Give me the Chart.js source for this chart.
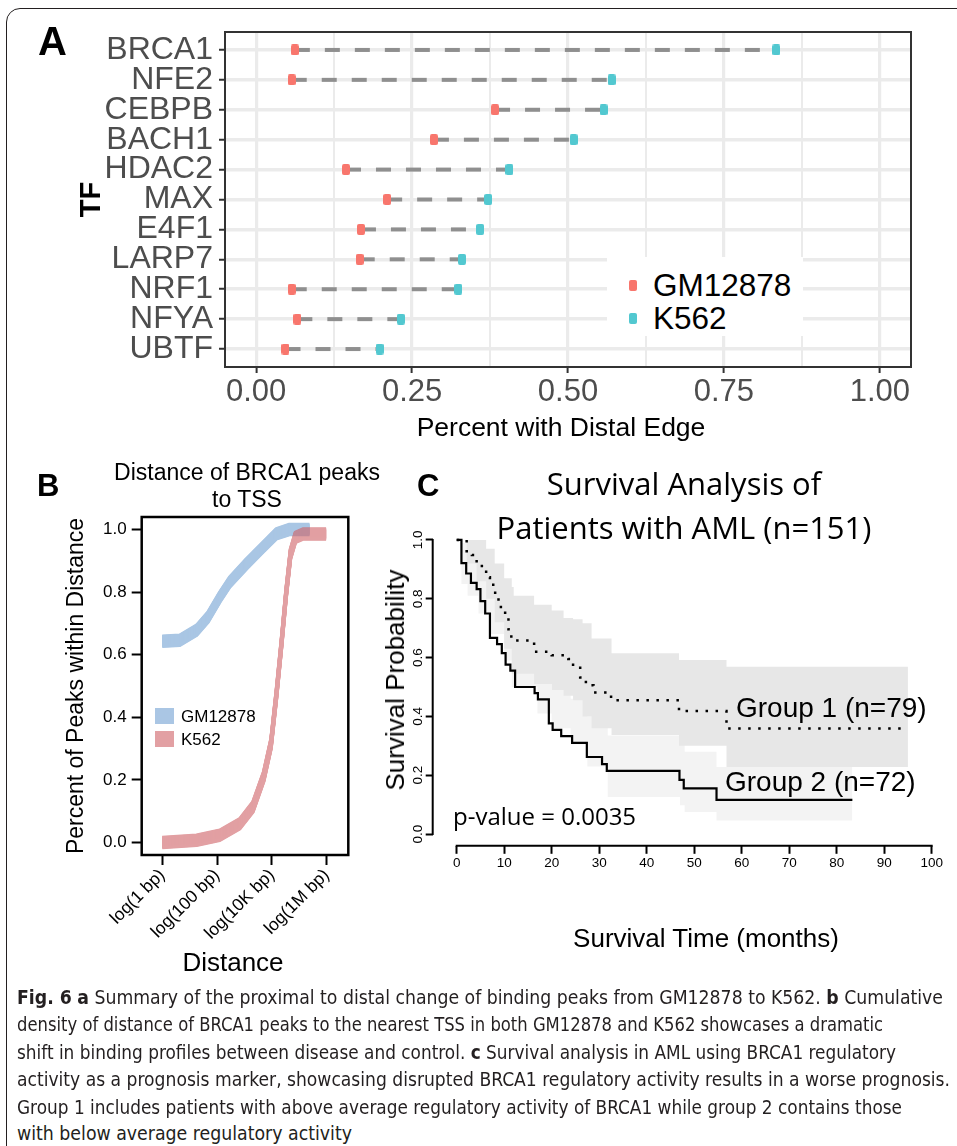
<!DOCTYPE html>
<html><head><meta charset="utf-8"><title>Fig. 6</title>
<script src="https://cdn.jsdelivr.net/npm/chart.js@4.4.1/dist/chart.umd.min.js"></script>
<style>
html,body{margin:0;padding:0;background:#fff;}
body{width:957px;height:1146px;overflow:hidden;position:relative;font-family:'Liberation Sans',Arial,Helvetica,sans-serif;color:#000;}
.frame{position:absolute;left:6px;top:8px;width:1100px;height:1300px;border:1.5px solid #231f20;border-radius:14px;box-sizing:border-box;}
.pane{position:absolute;}
.pane canvas{display:block;}
.t{position:absolute;white-space:nowrap;line-height:1;}
.os{font-family:'Open Sans','Noto Sans',sans-serif;}
.cap{position:absolute;left:17px;white-space:nowrap;font-family:'Liberation Sans Narrow','DejaVu Sans Condensed','Liberation Sans',sans-serif;font-size:20px;line-height:1;color:#231f20;transform-origin:0 50%;}
.cap b{font-weight:bold;}
</style></head>
<body>
<div class="frame"></div>
<div class="pane" style="left:0;top:0;width:957px;height:450px"><canvas id="chartA" width="957" height="450"></canvas></div>
<div class="pane" style="left:0;top:450px;width:400px;height:540px"><canvas id="chartB" width="400" height="540"></canvas></div>
<div class="pane" style="left:380px;top:450px;width:577px;height:520px"><canvas id="chartC" width="577" height="520"></canvas></div>

<!-- panel letters -->
<div class="t" style="left:38px;top:21px;font-size:40px;font-weight:bold;">A</div>
<div class="t" style="left:37px;top:470px;font-size:31px;font-weight:bold;">B</div>
<div class="t" style="left:417px;top:470px;font-size:31px;font-weight:bold;">C</div>

<!-- panel A legend & x title -->
<div style="position:absolute;left:607px;top:257px;width:196px;height:79px;background:#fff;"></div>
<div style="position:absolute;left:629px;top:280px;width:8px;height:11px;border-radius:2px;background:#F8766D;"></div>
<div style="position:absolute;left:629px;top:313px;width:8px;height:11px;border-radius:2px;background:#52C8D0;"></div>
<div class="t" style="left:653px;top:270px;font-size:31.5px;">GM12878</div>
<div class="t" style="left:653px;top:303px;font-size:31.5px;">K562</div>
<div class="t" style="left:561px;top:414px;font-size:26.5px;transform:translateX(-50%);">Percent with Distal Edge</div>

<!-- panel B texts -->
<div class="t" style="left:247px;top:461px;font-size:23px;transform:translateX(-50%);">Distance of BRCA1 peaks</div>
<div class="t" style="left:247px;top:488px;font-size:23px;transform:translateX(-50%);">to TSS</div>
<div style="position:absolute;left:155px;top:708px;width:19px;height:16px;background:rgba(113,160,210,0.6);"></div>
<div style="position:absolute;left:155px;top:731px;width:19px;height:16px;background:rgba(207,97,102,0.6);"></div>
<div class="t" style="left:181px;top:708px;font-size:17px;">GM12878</div>
<div class="t" style="left:181px;top:731px;font-size:17px;">K562</div>
<div class="t" style="left:233px;top:949px;font-size:26px;transform:translateX(-50%);">Distance</div>

<!-- panel C texts -->
<div class="t os" style="left:684px;top:468px;font-size:31px;transform:translateX(-50%);">Survival Analysis of</div>
<div class="t os" style="left:684px;top:512px;font-size:31px;transform:translateX(-50%);">Patients with AML (n=151)</div>
<div class="t os" style="left:453px;top:804px;font-size:24px;">p-value = 0.0035</div>
<div class="t" style="left:736px;top:694px;font-size:28px;">Group 1 (n=79)</div>
<div class="t" style="left:725px;top:768px;font-size:28px;">Group 2 (n=72)</div>
<div class="t" style="left:395px;top:680px;font-size:26px;transform:translate(-50%,-50%) rotate(-90deg);">Survival Probability</div>
<div class="t" style="left:706px;top:925px;font-size:26px;transform:translateX(-50%);">Survival Time (months)</div>

<!-- caption -->
<div class="cap" id="cap0" style="top:987px;"><b>Fig. 6</b> <b>a</b> Summary of the proximal to distal change of binding peaks from GM12878 to K562. <b>b</b> Cumulative</div>
<div class="cap" id="cap1" style="top:1014px;">density of distance of BRCA1 peaks to the nearest TSS in both GM12878 and K562 showcases a dramatic</div>
<div class="cap" id="cap2" style="top:1042px;">shift in binding profiles between disease and control. <b>c</b> Survival analysis in AML using BRCA1 regulatory</div>
<div class="cap" id="cap3" style="top:1069px;">activity as a prognosis marker, showcasing disrupted BRCA1 regulatory activity results in a worse prognosis.</div>
<div class="cap" id="cap4" style="top:1097px;">Group 1 includes patients with above average regulatory activity of BRCA1 while group 2 contains those</div>
<div class="cap" id="cap5" style="top:1123px;">with below average regulatory activity</div>

<script>
// ---------------- data: panel A ----------------
const tfNames = ['BRCA1','NFE2','CEBPB','BACH1','HDAC2','MAX','E4F1','LARP7','NRF1','NFYA','UBTF'];
const gm12878Pct = [0.062,0.057,0.383,0.285,0.144,0.210,0.168,0.166,0.057,0.066,0.047];
const k562Pct    = [0.834,0.570,0.557,0.509,0.406,0.372,0.359,0.330,0.324,0.232,0.198];
const pctTicks = [0,0.25,0.5,0.75,1];
const pctTickLabels = ['0.00','0.25','0.50','0.75','1.00'];
const pctMinorTicks = [0.125,0.375,0.625,0.875];

// ---------------- data: panel B ----------------
const distTicks = [0,2,4,6];
const distTickLabels = ['log(1 bp)','log(100 bp)','log(10K bp)','log(1M bp)'];
const gmLogDist = [0,0.64,1.25,1.67,2.1,2.46,3.07,3.67,4.16,4.64,5.37];
const gmCumFrac = [0.643,0.646,0.678,0.72,0.784,0.832,0.89,0.943,0.986,1.0,1.0];
const k562LogDist = [0,1.25,2.1,2.83,3.31,3.7,3.97,4.17,4.35,4.52,4.68,4.86,5.15,5.98];
const k562CumFrac = [0.0,0.007,0.023,0.06,0.114,0.21,0.316,0.476,0.635,0.795,0.922,0.975,0.986,0.986];
const fracTicks = [0,0.2,0.4,0.6,0.8,1.0];
const fracTickLabels = ['0.0','0.2','0.4','0.6','0.8','1.0'];

// ---------------- data: panel C ----------------
const monthTicks = [0,10,20,30,40,50,60,70,80,90,100];
const monthTickLabels = ['0','10','20','30','40','50','60','70','80','90','100'];
const g1Months = [0,2.1,3.2,4.2,5.3,6.2,7.0,8.1,8.8,10.2,10.9,11.5,16.3,20.0,23.5,24.5,26.0,27.2,28.8,32.5,46.8,56.8,94.0];
const g1Surv   = [1,0.962,0.949,0.923,0.899,0.873,0.848,0.81,0.772,0.734,0.696,0.658,0.62,0.608,0.595,0.57,0.532,0.506,0.481,0.455,0.418,0.359,0.359];
const g2Months = [0,1.0,2.0,3.0,4.2,5.0,6.0,7.0,8.5,9.5,10.3,11.3,12.3,16.4,17.1,19.4,20.2,22.0,24.3,27.4,30.6,31.6,46.9,47.8,54.7,83.3];
const g2Surv   = [1,0.921,0.886,0.854,0.833,0.792,0.75,0.667,0.646,0.615,0.576,0.556,0.5,0.479,0.458,0.376,0.354,0.333,0.31,0.262,0.238,0.215,0.184,0.155,0.116,0.116];
const band1Months = [0,2.1,4.2,6.2,8.0,10.0,11.6,12.0,16.3,20.0,22.5,24.5,26.5,28.4,32.6,46.8,56.8,95];
const band1Upper  = [1,1,1,0.97,0.92,0.87,0.84,0.81,0.78,0.76,0.735,0.73,0.717,0.665,0.615,0.592,0.569,0.569];
const band1Lower  = [1,0.92,0.86,0.80,0.72,0.63,0.545,0.545,0.51,0.49,0.47,0.455,0.40,0.36,0.337,0.30,0.228,0.228];
const band2Months = [0,1.0,2.3,4.6,7.0,10.0,11.6,17.0,20.0,24.0,27.5,31.8,47.0,48.0,54.7,83.3];
const band2Upper  = [1,0.99,0.96,0.93,0.86,0.76,0.66,0.55,0.49,0.46,0.40,0.335,0.31,0.28,0.228,0.228];
const band2Lower  = [1,0.85,0.81,0.75,0.68,0.59,0.50,0.41,0.36,0.305,0.23,0.126,0.098,0.075,0.046,0.046];
const survTicks = [0,0.2,0.4,0.6,0.8,1.0];
const survTickLabels = ['0.0','0.2','0.4','0.6','0.8','1.0'];

// ---------------- helpers / plugins ----------------
const FONT = "'Liberation Sans', Arial, Helvetica, sans-serif";
Chart.defaults.font.family = FONT;
Chart.defaults.color = '#000';
const pts = (xs, ys) => xs.map((x, i) => ({x, y: ys[i]}));

function markerImg(color){
  const c = document.createElement('canvas'); c.width = 8; c.height = 11;
  const g = c.getContext('2d'); g.fillStyle = color; g.beginPath();
  if (g.roundRect) g.roundRect(0,0,8,11,2); else g.rect(0,0,8,11);
  g.fill(); return c;
}

const frameBox = {
  id: 'frameBox',
  afterDraw(chart, args, opts){
    if (!opts || !opts.color) return;
    const a = chart.chartArea, ctx = chart.ctx;
    ctx.save(); ctx.strokeStyle = opts.color; ctx.lineWidth = opts.width;
    ctx.strokeRect(a.left, a.top, a.right - a.left, a.bottom - a.top);
    ctx.restore();
  }
};

const bandPlugin = {
  id: 'bands',
  afterDatasetsDraw(chart){
    const ctx = chart.ctx;
    chart.data.datasets.forEach((ds, i) => {
      if (!ds.band) return;
      const p = chart.getDatasetMeta(i).data.map(e => ({x: e.x, y: e.y}));
      const off = document.createElement('canvas'); off.width = chart.width; off.height = chart.height;
      const o = off.getContext('2d');
      o.strokeStyle = ds.band.color; o.lineWidth = ds.band.width; o.lineJoin = 'round'; o.lineCap = 'butt';
      for (let d = -ds.band.half; d <= ds.band.half; d += 0.5){
        o.beginPath();
        p.forEach((q, k) => k ? o.lineTo(q.x, q.y + d) : o.moveTo(q.x, q.y + d));
        o.stroke();
      }
      ctx.save(); ctx.globalAlpha = ds.band.alpha; ctx.drawImage(off, 0, 0); ctx.restore();
    });
  }
};

const rAxes = {
  id: 'rAxes',
  afterDraw(chart, args, opts){
    if (!opts || !opts.width) return;
    const ctx = chart.ctx, xs = chart.scales.x, ys = chart.scales.y, a = chart.chartArea;
    ctx.save(); ctx.strokeStyle = '#000'; ctx.lineWidth = opts.width; ctx.lineCap = 'square';
    ctx.beginPath();
    ctx.moveTo(xs.getPixelForValue(opts.x0), a.bottom); ctx.lineTo(xs.getPixelForValue(opts.x1), a.bottom);
    ctx.moveTo(a.left, ys.getPixelForValue(opts.y0)); ctx.lineTo(a.left, ys.getPixelForValue(opts.y1));
    ctx.stroke(); ctx.restore();
  }
};

// ---------------- chart A ----------------
const allPctTicks = pctTicks.concat(pctMinorTicks).sort((a,b)=>a-b);
const isMajor = v => pctTicks.indexOf(v) >= 0;
new Chart(document.getElementById('chartA'), {
  type: 'scatter',
  data: { datasets: [
    ...tfNames.map((n, i) => ({
      label: n, data: [{x: gm12878Pct[i], y: i}, {x: k562Pct[i], y: i}],
      showLine: true, borderColor: '#8f8f8f', borderWidth: 4, borderDash: [15,15], borderCapStyle: 'butt',
      pointRadius: 0, order: 3
    })),
    { label: 'GM12878', data: gm12878Pct.map((v, i) => ({x: v, y: i})), pointStyle: markerImg('#F8766D'), order: 1 },
    { label: 'K562', data: k562Pct.map((v, i) => ({x: v, y: i})), pointStyle: markerImg('#52C8D0'), order: 1 }
  ]},
  options: {
    responsive: false, animation: false, devicePixelRatio: 1,
    layout: { padding: { left: 0, top: 32, right: 46, bottom: 0 } },
    events: [],
    plugins: { legend: { display: false }, tooltip: { enabled: false }, frameBox: { color: '#333', width: 2 } },
    scales: {
      x: {
        type: 'linear', min: -0.05, max: 1.05,
        afterBuildTicks: s => { s.ticks = allPctTicks.map(v => ({value: v})); },
        ticks: { callback: v => isMajor(v) ? pctTickLabels[pctTicks.indexOf(v)] : '', font: {size: 31}, color: '#4d4d4d', padding: 1, autoSkip: false, maxRotation: 0 },
        grid: { color: '#ebebeb', lineWidth: c => (c.tick && isMajor(c.tick.value)) ? 3.2 : 2, tickLength: 6,
                tickColor: c => (c.tick && isMajor(c.tick.value)) ? '#333' : 'rgba(0,0,0,0)', tickWidth: 2 },
        border: { display: false },
        afterFit: s => { s.height = 450 - 367; }
      },
      y: {
        type: 'linear', reverse: true, min: -0.6, max: 10.6,
        afterBuildTicks: s => { s.ticks = tfNames.map((n, i) => ({value: i})); },
        ticks: { callback: v => tfNames[v], font: {size: 32}, color: '#4d4d4d', padding: 6, autoSkip: false },
        grid: { color: '#ebebeb', lineWidth: 3.5, tickLength: 6, tickColor: '#333', tickWidth: 2 },
        border: { display: false },
        title: { display: true, text: 'TF', font: {size: 29, weight: 'bold'}, color: '#000', padding: {top: 75, bottom: 0} },
        afterFit: s => { s.width = 225; }
      }
    }
  },
  plugins: [frameBox]
});

// ---------------- chart B ----------------
new Chart(document.getElementById('chartB'), {
  type: 'scatter',
  data: { datasets: [
    { label: 'GM12878', data: pts(gmLogDist, gmCumFrac), pointRadius: 0, showLine: false,
      band: { color: 'rgb(113,160,210)', alpha: 0.6, half: 5, width: 3.5 } },
    { label: 'K562', data: pts(k562LogDist, k562CumFrac), pointRadius: 0, showLine: false,
      band: { color: 'rgb(207,97,102)', alpha: 0.6, half: 5, width: 3.5 } }
  ]},
  options: {
    responsive: false, animation: false, devicePixelRatio: 1, events: [],
    layout: { padding: { left: 0, top: 67, right: 51.7, bottom: 0 } },
    plugins: { legend: { display: false }, tooltip: { enabled: false }, frameBox: { color: '#000', width: 2.5 } },
    scales: {
      x: {
        type: 'linear', min: -0.75, max: 6.79,
        afterBuildTicks: s => { s.ticks = distTicks.map(v => ({value: v})); },
        ticks: { callback: v => distTickLabels[distTicks.indexOf(v)], minRotation: 45, maxRotation: 45, font: {size: 17.5}, color: '#000', padding: 0, autoSkip: false },
        grid: { drawOnChartArea: false, tickLength: 10, tickColor: '#000', tickWidth: 2 },
        border: { display: false },
        afterFit: s => { s.height = 540 - 405; }
      },
      y: {
        type: 'linear', min: -0.04, max: 1.04,
        afterBuildTicks: s => { s.ticks = fracTicks.map(v => ({value: v})); },
        ticks: { callback: v => fracTickLabels[fracTicks.indexOf(v)], font: {size: 17}, color: '#000', padding: 5, autoSkip: false },
        grid: { drawOnChartArea: false, tickLength: 10, tickColor: '#000', tickWidth: 2 },
        border: { display: false },
        title: { display: true, text: 'Percent of Peaks within Distance', font: {size: 23}, color: '#000', padding: {top: 63, bottom: 0} },
        afterFit: s => { s.width = 141.7; }
      }
    }
  },
  plugins: [bandPlugin, frameBox]
});

// ---------------- chart C ----------------
const bandStyle = { stepped: 'before', showLine: true, borderWidth: 0, borderColor: 'rgba(0,0,0,0)', pointRadius: 0 };
new Chart(document.getElementById('chartC'), {
  type: 'scatter',
  data: { datasets: [
    Object.assign({ label: 'Group 2 CI low', data: pts(band2Months, band2Lower), fill: false, order: 4 }, bandStyle),
    Object.assign({ label: 'Group 2 CI high', data: pts(band2Months, band2Upper), fill: '-1', backgroundColor: '#f3f3f3', order: 4 }, bandStyle),
    Object.assign({ label: 'Group 1 CI low', data: pts(band1Months, band1Lower), fill: false, order: 3 }, bandStyle),
    Object.assign({ label: 'Group 1 CI high', data: pts(band1Months, band1Upper), fill: '-1', backgroundColor: '#e7e7e7', order: 3 }, bandStyle),
    { label: 'Group 1 (n=79)', data: pts(g1Months, g1Surv), stepped: 'before', showLine: true, borderColor: '#000',
      borderWidth: 2.5, borderDash: [2.5, 7.5], borderCapStyle: 'butt', pointRadius: 0, fill: false, order: 1 },
    { label: 'Group 2 (n=72)', data: pts(g2Months, g2Surv), stepped: 'before', showLine: true, borderColor: '#000',
      borderWidth: 2.2, pointRadius: 0, fill: false, order: 0 }
  ]},
  options: {
    responsive: false, animation: false, devicePixelRatio: 1, events: [],
    layout: { padding: { left: 0, top: 78.2, right: 6.3, bottom: 0 } },
    plugins: { legend: { display: false }, tooltip: { enabled: false }, rAxes: { width: 2, x0: 0, x1: 100, y0: 0, y1: 1 } },
    scales: {
      x: {
        type: 'linear', min: -5.05, max: 104,
        afterBuildTicks: s => { s.ticks = monthTicks.map(v => ({value: v})); },
        ticks: { callback: v => monthTickLabels[monthTicks.indexOf(v)], font: {size: 13.5}, color: '#000', padding: 1, autoSkip: false, maxRotation: 0 },
        grid: { drawOnChartArea: false, tickLength: 8, tickColor: '#000', tickWidth: 2 },
        border: { display: false },
        afterFit: s => { s.height = 520 - 395.8; }
      },
      y: {
        type: 'linear', min: -0.04, max: 1.04,
        afterBuildTicks: s => { s.ticks = survTicks.map(v => ({value: v})); },
        ticks: { callback: v => survTickLabels[survTicks.indexOf(v)], font: {size: 13.5}, color: '#000', padding: -2,
                 minRotation: 90, maxRotation: 90, crossAlign: 'center', autoSkip: false },
        grid: { drawOnChartArea: false, tickLength: 7, tickColor: '#000', tickWidth: 2 },
        border: { display: false },
        afterFit: s => { s.width = 52.7; }
      }
    }
  },
  plugins: [rAxes]
});

// ---------------- caption line fitting ----------------
const capRight = [943, 883, 896, 950, 902, 352];
function fitCaption(){
  capRight.forEach((r, i) => {
    const el = document.getElementById('cap' + i);
    el.style.transform = 'none';
    const w = el.getBoundingClientRect().width;
    if (w > 0) el.style.transform = 'scaleX(' + ((r - 17) / w) + ')';
  });
}
fitCaption();
if (document.fonts && document.fonts.ready) document.fonts.ready.then(fitCaption);
</script>
</body></html>
